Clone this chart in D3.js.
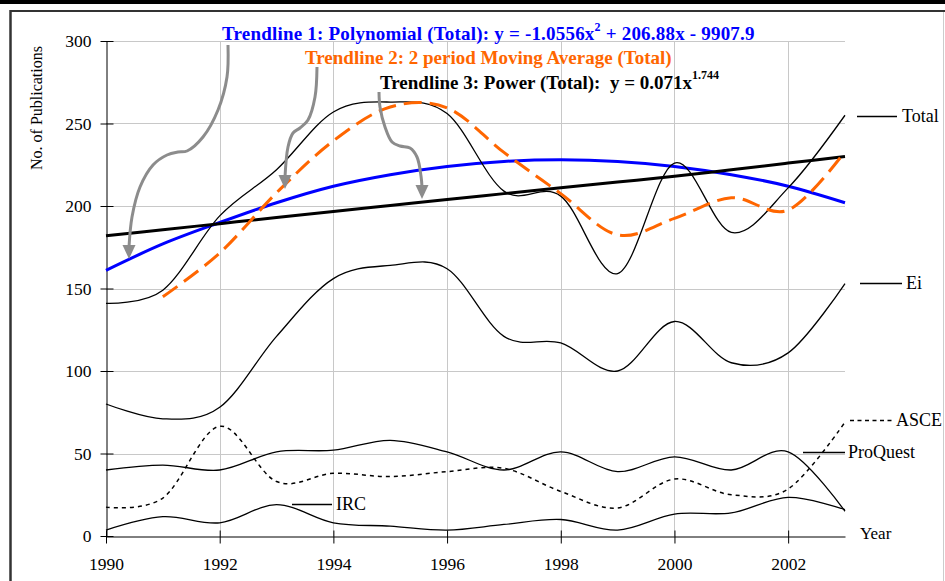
<!DOCTYPE html>
<html><head><meta charset="utf-8">
<script src="https://cdn.jsdelivr.net/npm/d3@7"></script>
<style>
html,body{margin:0;padding:0;background:#fff;}
svg{display:block;}
text{font-family:"Liberation Serif","Times New Roman",serif;white-space:pre;}
</style></head>
<body>
<svg id="chart" width="945" height="581"></svg>
<script>
// ---- data ----
const years = [1990,1991,1992,1993,1994,1995,1996,1997,1998,1999,2000,2001,2002,2003];
const total    = [141,149,194,222,257,263,256,209,206,159,226,184,211,255];
const ei       = [80,71,78,121,156,164,162,121,117,100,130,105,111,153];
const proquest = [40,43,40,51,52,58,51,40,51,39,48,40,51,15];
const asce     = [17.5,23,66.5,33,38,36,39,41,27,17,34.5,25,28.5,69];
const irc      = [3.6,11.7,8,19,8,6,3.6,7,10,3.6,13.3,14,23.4,16];
const movingAvg  = [null,145,171.5,208,239.5,260,259.5,232.5,207.5,182.5,192.5,205,197.5,233];
const polyTrend  = [161,177,190,202,212,219,224,227,228,227,224,219,212,202];
const powerTrend = [182,185.6,189.3,193,196.6,200.3,204,207.5,211,214.5,218,222,226,230];
const xTicks = [1990,1992,1994,1996,1998,2000,2002];
const yTicks = [0,50,100,150,200,250,300];
const seriesLabels = ["Total","Ei","ASCE","ProQuest","IRC"];

// ---- layout ----
const svg = d3.select("#chart");
const L = 106, R = 845, T = 41, B = 536;
const x = d3.scaleLinear().domain([1990,2003]).range([L,R]);
const y = d3.scaleLinear().domain([0,300]).range([B,T]);

// frame
svg.append("rect").attr("x",0).attr("y",0).attr("width",945).attr("height",4).attr("fill","#000");
svg.append("line").attr("x1",10).attr("x2",945).attr("y1",11).attr("y2",11).attr("stroke","#333").attr("stroke-width",2);
svg.append("line").attr("x1",10.5).attr("x2",10.5).attr("y1",10).attr("y2",581).attr("stroke","#333").attr("stroke-width",2.5);
svg.append("line").attr("x1",943.5).attr("x2",943.5).attr("y1",12).attr("y2",581).attr("stroke","#ccc").attr("stroke-width",1);

// grid
const grid = svg.append("g").attr("stroke","#c8c8c8").attr("stroke-width",1);
yTicks.filter(d=>d>0).forEach(d=>grid.append("line").attr("x1",L).attr("x2",R).attr("y1",Math.round(y(d))+0.5).attr("y2",Math.round(y(d))+0.5));
xTicks.filter(d=>d>1990).forEach(d=>grid.append("line").attr("x1",Math.round(x(d))+0.5).attr("x2",Math.round(x(d))+0.5).attr("y1",T).attr("y2",B));

// axes
const yAxis = svg.append("g").attr("transform",`translate(${L+0.5},0)`)
  .call(d3.axisLeft(y).tickValues(yTicks).tickSize(6).tickSizeOuter(0).tickPadding(9));
yAxis.selectAll(".tick line").attr("x1",7).attr("stroke","#000");
yAxis.select(".domain").attr("stroke","#000");
yAxis.selectAll("text").attr("font-size",17.5).attr("font-family","Liberation Serif, serif").attr("fill","#000");

const xAxis = svg.append("g").attr("transform",`translate(0,${B+0.5})`)
  .call(d3.axisBottom(x).tickValues(xTicks).tickFormat(d3.format("d")).tickSize(7).tickSizeOuter(0));
xAxis.selectAll(".tick line").attr("y1",-6).attr("stroke","#000");
xAxis.select(".domain").attr("stroke","#000");
xAxis.selectAll("text").attr("dy",null).attr("y",33).attr("font-size",17.5).attr("font-family","Liberation Serif, serif").attr("fill","#000");

svg.append("text").attr("transform","translate(42,108) rotate(-90)").attr("text-anchor","middle")
  .attr("font-size",16).text("No. of Publications");
svg.append("text").attr("x",860).attr("y",539).attr("font-size",17).text("Year");

// lines
const line = d3.line().defined(d=>d[1]!=null).x(d=>x(d[0])).y(d=>y(d[1])).curve(d3.curveCardinal.tension(0));
const pts = arr => years.map((yr,i)=>[yr,arr[i]]);
const g = svg.append("g").attr("fill","none");
g.append("path").attr("d",line(pts(polyTrend))).attr("stroke","#0000ff").attr("stroke-width",3);
g.append("path").attr("d",line(pts(powerTrend))).attr("stroke","#000").attr("stroke-width",3);
g.append("path").attr("d",line(pts(total))).attr("stroke","#000").attr("stroke-width",1.3);
g.append("path").attr("d",line(pts(ei))).attr("stroke","#000").attr("stroke-width",1.3);
g.append("path").attr("d",line(pts(proquest))).attr("stroke","#000").attr("stroke-width",1.3);
g.append("path").attr("d",line(pts(irc))).attr("stroke","#000").attr("stroke-width",1.3);
g.append("path").attr("d",line(pts(asce))).attr("stroke","#000").attr("stroke-width",1.5).attr("stroke-dasharray","4,4");
g.append("path").attr("d",line(pts(movingAvg).filter(d=>d[1]!=null))).attr("stroke","#ff6600").attr("stroke-width",3).attr("stroke-dasharray","18,8");

// series labels (legend keys at line ends)
const lab = [
  {k:"Total", x1:857,x2:897,y:116,tx:902,dash:null},
  {k:"Ei", x1:860,x2:902,y:283,tx:906,dash:null},
  {k:"ASCE", x1:850,x2:892,y:420,tx:896,dash:"4,3.5"},
  {k:"ProQuest", x1:803,x2:845,y:452,tx:848,dash:null},
  {k:"IRC", x1:292,x2:332,y:504,tx:336,dash:null}
];
lab.forEach(o=>{
  const ln = svg.append("line").attr("x1",o.x1).attr("x2",o.x2).attr("y1",o.y+0.5).attr("y2",o.y+0.5).attr("stroke","#000").attr("stroke-width",o.dash?1.5:1.3);
  if(o.dash) ln.attr("stroke-dasharray",o.dash);
  svg.append("text").attr("x",o.tx).attr("y",o.y+6).attr("font-size",18).text(o.k);
});

// arrows (annotation)
const arrows = [
  [[228,45],[227,77],[218,110],[203,137],[187,151],[178,152],[167,155],[153,165],[140,187],[132,217],[129,247]],
  [[317,67],[315,97],[308,120],[300,128],[293,133],[288,147],[285,177]],
  [[379,92],[380,107],[385,127],[392,142],[400,146],[410,148],[417,157],[421,176],[422,187]]
];
const aLine = d3.line().curve(d3.curveCatmullRom.alpha(0.5));
arrows.forEach(a=>{
  svg.append("path").attr("d",aLine(a)).attr("fill","none").attr("stroke","#8c8c8c").attr("stroke-width",3);
  const e = a[a.length-1];
  svg.append("path").attr("d",`M${e[0]-6.5},${e[1]-2}L${e[0]+6.5},${e[1]-2}L${e[0]},${e[1]+12}Z`).attr("fill","#8c8c8c");
});

// trendline titles
const t1 = svg.append("text").attr("x",222).attr("y",40).attr("font-size",19).attr("font-weight","bold").attr("fill","#0000ff").attr("letter-spacing",0.2);
t1.append("tspan").text("Trendline 1: Polynomial (Total): y = -1.0556x");
t1.append("tspan").attr("dy",-9).attr("font-size",12).text("2");
t1.append("tspan").attr("dy",9).text(" + 206.88x - 9907.9");
svg.append("text").attr("x",305).attr("y",64).attr("font-size",19).attr("font-weight","bold").attr("fill","#ff6600")
  .text("Trendline 2: 2 period Moving Average (Total)");
const t3 = svg.append("text").attr("x",380).attr("y",89).attr("font-size",19).attr("font-weight","bold").attr("fill","#000");
t3.append("tspan").text("Trendline 3: Power (Total):  y = 0.071x");
t3.append("tspan").attr("dy",-10).attr("font-size",12).text("1.744");
</script>
</body></html>
